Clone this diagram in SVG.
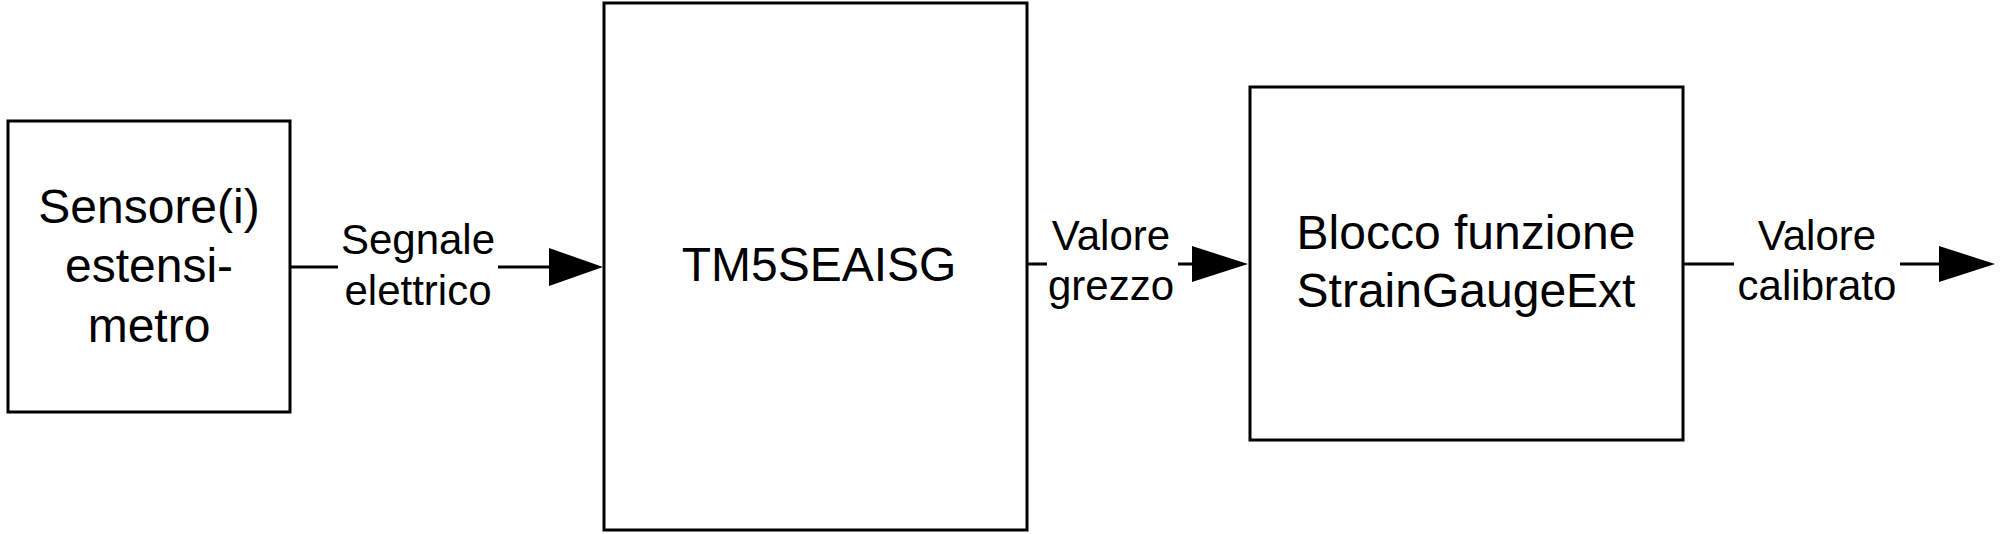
<svg xmlns="http://www.w3.org/2000/svg" width="2002" height="534" viewBox="0 0 2002 534">
<style>
.box{fill:#fff;stroke:#000;stroke-width:3}
.ln{stroke:#000;stroke-width:3;fill:none}
.ah{fill:#000}
text{font-family:"Liberation Sans",Arial,sans-serif;fill:#000;text-anchor:middle}
.big{font-size:48px}
.lbl{font-size:42px}
</style>
<rect width="2002" height="534" fill="#fff"/>
<g id="sensore"><rect class="box" x="8" y="121" width="282" height="291"/>
<text class="big" x="149" y="223">Sensore(i)</text><text class="big" x="149" y="282">estensi-</text><text class="big" x="149" y="342">metro</text></g>
<g id="tm5"><rect class="box" x="604" y="3" width="423" height="527"/>
<text class="big" x="819" y="281">TM5SEAISG</text></g>
<g id="blocco"><rect class="box" x="1250" y="87" width="433" height="353"/>
<text class="big" x="1466" y="249">Blocco funzione</text><text class="big" x="1466" y="307">StrainGaugeExt</text></g>
<g id="connectors">
<path class="ln" d="M290 267H338M498 267H550M1027 264H1047M1178 264H1194M1683 264H1734M1900 264H1941"/>
<polygon class="ah" points="549,248 603,267 549,286"/>
<polygon class="ah" points="1192,246 1248,264 1192,282"/>
<polygon class="ah" points="1939,246 1995,264 1939,282"/>
<text class="lbl" x="418" y="254">Segnale</text><text class="lbl" x="418" y="305">elettrico</text>
<text class="lbl" x="1111" y="250">Valore</text><text class="lbl" x="1111" y="300">grezzo</text>
<text class="lbl" x="1817" y="250">Valore</text><text class="lbl" x="1817" y="300">calibrato</text>
</g>
</svg>
